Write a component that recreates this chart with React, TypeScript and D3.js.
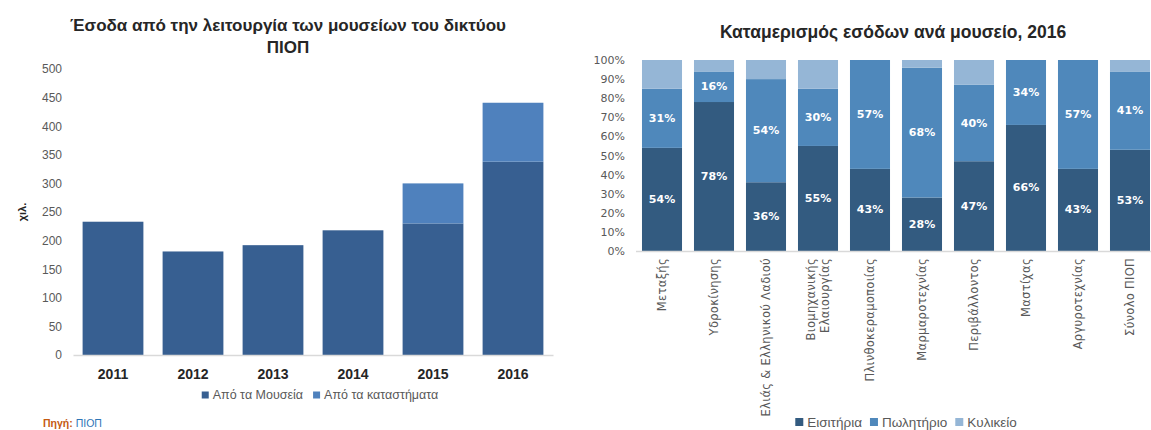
import React, { useEffect, useRef } from 'react';
import * as d3 from 'd3';

// left chart: income per year (thousands)
const years = ['2011', '2012', '2013', '2014', '2015', '2016'];
const fromMuseums = [233, 181, 192, 218, 230, 338];
const fromShops = [0, 0, 0, 0, 70, 103];
const incomeSeries = ['Από τα Μουσεία', 'Από τα καταστήματα'];
const incomeTicks = [0, 50, 100, 150, 200, 250, 300, 350, 400, 450, 500];

// right chart: share of income per museum, 2016 (%)
const museums = [
  'Μεταξής',
  'Υδροκίνησης',
  'Ελιάς & Ελληνικού Λαδιού',
  'Βιομηχανικής\nΕλαιουργίας',
  'Πλινθοκεραμοποιίας',
  'Μαρμαροτεχνίας',
  'Περιβάλλοντος',
  'Μαστίχας',
  'Αργυροτεχνίας',
  'Σύνολο ΠΙΟΠ',
];
const tickets = [54, 78, 36, 55, 43, 28, 47, 66, 43, 53];
const giftShop = [31, 16, 54, 30, 57, 68, 40, 34, 57, 41];
const canteen = [15, 6, 10, 15, 0, 4, 13, 0, 0, 6];
const shareSeries = ['Εισιτήρια', 'Πωλητήριο', 'Κυλικείο'];
const shareTicks = [0, 10, 20, 30, 40, 50, 60, 70, 80, 90, 100];

const leftColors = ['#375f91', '#4f81bd'];
const rightColors = ['#335b80', '#4f88bb', '#95b6d6'];
const gray = '#595959';
const sans = '"Liberation Sans", Arial, sans-serif';
const wide = '"DejaVu Sans", Verdana, sans-serif';

function legend(g, items, colors, cx, cy, fontSize, box, gap) {
  const lg = g.append('g').attr('font-family', sans).attr('font-size', fontSize).attr('fill', gray);
  let xpos = 0;
  items.forEach((name, i) => {
    lg.append('rect')
      .attr('x', xpos).attr('y', cy - box / 2)
      .attr('width', box).attr('height', box)
      .attr('fill', colors[i]);
    const t = lg.append('text')
      .attr('x', xpos + box + 4).attr('y', cy)
      .attr('dominant-baseline', 'central')
      .text(name);
    const w = (t.node() as SVGTextElement).getComputedTextLength();
    xpos += box + 4 + w + gap;
  });
  const total = xpos - gap;
  lg.attr('transform', `translate(${cx - total / 2},0)`);
}

function drawLeft(g) {
  const x = d3.scaleBand().domain(years).range([73, 553]).paddingInner(0.24).paddingOuter(0.12);
  const y = d3.scaleLinear().domain([0, 500]).range([355, 69]);

  const rows = years.map((yr, i) => ({ year: yr, museums: fromMuseums[i], shops: fromShops[i] }));
  const stacked = d3.stack().keys(['museums', 'shops'])(rows);

  g.append('g')
    .selectAll('g')
    .data(stacked)
    .join('g')
    .attr('fill', (_, i) => leftColors[i])
    .selectAll('rect')
    .data((d) => d.filter((p) => p[1] > p[0]))
    .join('rect')
    .attr('x', (d) => x(d.data.year))
    .attr('width', x.bandwidth())
    .attr('y', (d) => y(d[1]))
    .attr('height', (d) => y(d[0]) - y(d[1]));

  const ya = g.append('g')
    .attr('transform', 'translate(73,0)')
    .call(d3.axisLeft(y).tickValues(incomeTicks).tickSize(0).tickPadding(11));
  ya.select('.domain').remove();
  ya.selectAll('text').attr('font-family', sans).attr('font-size', 12).attr('fill', gray);

  const xa = g.append('g')
    .attr('transform', 'translate(0,355)')
    .call(d3.axisBottom(x).tickSize(0).tickSizeOuter(0).tickPadding(14));
  xa.select('.domain').attr('stroke', '#d9d9d9').attr('stroke-width', 1.5);
  xa.selectAll('text')
    .attr('font-family', sans).attr('font-size', 14).attr('font-weight', 'bold').attr('fill', '#262626');

  g.append('text')
    .attr('transform', 'translate(22,212) rotate(-90)')
    .attr('text-anchor', 'middle').attr('dominant-baseline', 'central')
    .attr('font-family', sans).attr('font-size', 11).attr('font-weight', 'bold').attr('fill', '#262626')
    .text('χιλ.');

  const title = g.append('text')
    .attr('text-anchor', 'middle')
    .attr('font-family', sans).attr('font-size', 17).attr('font-weight', 'bold').attr('fill', '#262626');
  title.append('tspan').attr('x', 288).attr('y', 31).text('Έσοδα από την λειτουργία των μουσείων του δικτύου');
  title.append('tspan').attr('x', 288).attr('y', 53).text('ΠΙΟΠ');

  legend(g, incomeSeries, leftColors, 320, 395, 12.5, 7, 10);

  const src = g.append('text')
    .attr('x', 43).attr('y', 427)
    .attr('font-family', sans).attr('font-size', 10.5);
  src.append('tspan').attr('font-weight', 'bold').attr('fill', '#c55a11').text('Πηγή: ');
  src.append('tspan').attr('fill', '#2e75b6').text('ΠΙΟΠ');
}

function drawRight(g) {
  const x = d3.scaleBand().domain(museums).range([636, 1156]).paddingInner(0.23).paddingOuter(0.115);
  const y = d3.scaleLinear().domain([0, 100]).range([251, 60]);

  const rows = museums.map((m, i) => ({ name: m, tickets: tickets[i], shop: giftShop[i], cafe: canteen[i] }));
  const keys = ['tickets', 'shop', 'cafe'];
  const stacked = d3.stack().keys(keys)(rows);

  const layers = g.append('g')
    .selectAll('g')
    .data(stacked)
    .join('g')
    .attr('fill', (_, i) => rightColors[i]);

  layers.selectAll('rect')
    .data((d) => d.filter((p) => p[1] > p[0]))
    .join('rect')
    .attr('x', (d) => x(d.data.name))
    .attr('width', x.bandwidth())
    .attr('y', (d) => y(d[1]))
    .attr('height', (d) => y(d[0]) - y(d[1]));

  // value labels for tickets and gift shop only
  g.append('g')
    .selectAll('g')
    .data(stacked.slice(0, 2))
    .join('g')
    .selectAll('text')
    .data((d) => d)
    .join('text')
    .attr('x', (d) => x(d.data.name) + x.bandwidth() / 2)
    .attr('y', (d) => y((d[0] + d[1]) / 2))
    .attr('text-anchor', 'middle').attr('dominant-baseline', 'central')
    .attr('font-family', wide).attr('font-size', 11).attr('font-weight', 'bold').attr('fill', '#ffffff')
    .text((d) => `${d[1] - d[0]}%`);

  const ya = g.append('g')
    .attr('transform', 'translate(636,0)')
    .call(d3.axisLeft(y).tickValues(shareTicks).tickSize(0).tickPadding(11).tickFormat((d) => `${d}%`));
  ya.select('.domain').remove();
  ya.selectAll('text').attr('font-family', wide).attr('font-size', 11).attr('fill', gray);

  g.append('line')
    .attr('x1', 636).attr('x2', 1151).attr('y1', 251.5).attr('y2', 251.5)
    .attr('stroke', '#d9d9d9').attr('stroke-width', 1.5);

  const cats = g.append('g')
    .attr('font-family', wide).attr('font-size', 11.5).attr('letter-spacing', 0.3).attr('fill', gray);
  museums.forEach((m) => {
    const lines = m.split('\n');
    const cx = x(m) + x.bandwidth() / 2;
    const t = cats.append('text')
      .attr('transform', `translate(${cx},258) rotate(-90)`)
      .attr('text-anchor', 'end');
    lines.forEach((ln, i) => {
      t.append('tspan')
        .attr('x', 0)
        .attr('y', (i - (lines.length - 1) / 2) * 14)
        .attr('dominant-baseline', 'central')
        .text(ln);
    });
  });

  g.append('text')
    .attr('x', 893).attr('y', 38)
    .attr('text-anchor', 'middle')
    .attr('font-family', sans).attr('font-size', 17.5).attr('font-weight', 'bold').attr('fill', '#262626')
    .text('Καταμερισμός εσόδων ανά μουσείο, 2016');

  legend(g, shareSeries, rightColors, 906, 422, 13.5, 8, 8);
}

export default function App() {
  const ref = useRef<SVGSVGElement>(null);

  useEffect(() => {
    const svg = d3.select(ref.current);
    svg.selectAll('*').remove();
    svg.append('rect').attr('width', 1151).attr('height', 430).attr('fill', '#ffffff');
    drawLeft(svg.append('g'));
    drawRight(svg.append('g'));
  }, []);

  return (
    <svg
      ref={ref}
      width={1151}
      height={430}
      style={{ position: 'absolute', left: 0, top: 0, display: 'block' }}
    />
  );
}
